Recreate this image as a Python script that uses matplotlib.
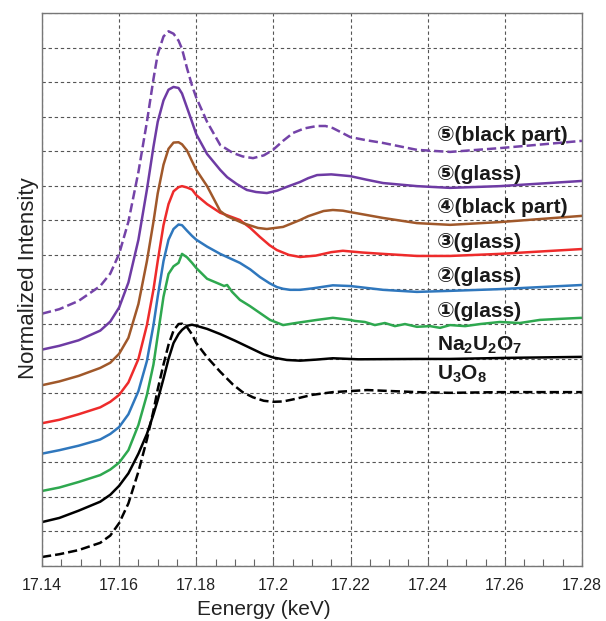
import numpy as np
import matplotlib
matplotlib.use('Agg')
import matplotlib.pyplot as plt
from matplotlib.ticker import MultipleLocator, NullFormatter

plt.rcParams['font.family'] = ['Liberation Sans', 'DejaVu Sans']
plt.rcParams['mathtext.fontset'] = 'custom'
plt.rcParams['mathtext.bf'] = 'Liberation Sans:bold'
plt.rcParams['mathtext.rm'] = 'Liberation Sans'

# energies shared by the edge region
e_edge = [17.140, 17.1445, 17.1495, 17.1551, 17.1577, 17.1600, 17.1624, 17.1650, 17.1672,
          17.1689, 17.1700, 17.1715, 17.1728, 17.1741, 17.1754, 17.1763, 17.1776, 17.1789,
          17.1800, 17.1828, 17.1862]

# U3O8 (dashed black)
e_u3o8 = e_edge + [17.1895, 17.1920, 17.1947, 17.1975, 17.1999, 17.2025, 17.2051, 17.2100,
                   17.2154, 17.2243, 17.2372, 17.2458, 17.2587, 17.280]
i_u3o8 = [0.26, 0.34, 0.46, 0.67, 0.88, 1.24, 1.81, 2.73, 3.66,
          4.49, 5.11, 5.83, 6.40, 6.81, 7.00, 7.01, 6.91, 6.70,
          6.45, 6.04, 5.62,
          5.25, 5.03, 4.88, 4.78, 4.75, 4.76, 4.82, 4.95,
          5.03, 5.09, 5.03, 5.01, 5.03, 5.03]

# Na2U2O7 (solid black)
e_na = e_edge + [17.1900, 17.1947, 17.1975, 17.2000, 17.2035, 17.2069, 17.2110, 17.2154,
                 17.2220, 17.2372, 17.2458, 17.2600, 17.280]
i_na = [1.27, 1.39, 1.60, 1.86, 2.06, 2.32, 2.68, 3.25, 3.82,
        4.39, 4.80, 5.42, 5.99, 6.45, 6.71, 6.83, 6.95, 6.98,
        6.95, 6.86, 6.71,
        6.52, 6.27, 6.12, 6.03, 5.96, 5.94, 5.97, 6.01,
        5.98, 5.99, 5.99, 6.02, 6.05]

# (1) glass - green
e_g1 = e_edge + [17.1872, 17.1880, 17.1893, 17.1913, 17.1939, 17.1965, 17.1991, 17.2025,
                 17.2058, 17.2113, 17.2154, 17.2199, 17.2211, 17.2237, 17.2263, 17.2289,
                 17.2315, 17.2341, 17.2372, 17.2406, 17.2432, 17.2458, 17.2497, 17.2536,
                 17.2587, 17.2639, 17.2691, 17.2743, 17.280]
i_g1 = [2.17, 2.27, 2.43, 2.63, 2.79, 2.99, 3.35, 4.08, 4.95,
        5.83, 6.66, 7.79, 8.45, 8.67, 8.77, 9.03, 8.93, 8.77,
        8.62, 8.31, 8.15,
        8.10, 8.13, 7.93, 7.70, 7.52, 7.32, 7.12, 6.97,
        7.03, 7.12, 7.18, 7.12, 7.09, 7.06, 6.97, 7.03,
        6.94, 7.00, 6.92, 6.94, 6.89, 6.97, 6.94, 7.00,
        7.06, 7.03, 7.12, 7.15, 7.18]

# (2) glass - blue
e_g2 = e_edge + [17.1913, 17.1940, 17.1965, 17.1990, 17.2009, 17.2025, 17.2043, 17.2069,
                 17.2100, 17.2154, 17.2199, 17.2284, 17.2372, 17.2458, 17.2587, 17.280]
i_g2 = [3.25, 3.35, 3.48, 3.66, 3.82, 4.02, 4.39, 5.06, 5.93,
        6.97, 7.79, 8.82, 9.44, 9.75, 9.88, 9.86, 9.70, 9.55,
        9.44, 9.24, 9.03,
        8.77, 8.58, 8.36, 8.18, 8.07, 8.02, 7.99, 7.99,
        8.03, 8.12, 8.10, 7.99, 7.93, 7.96, 8.01, 8.13]

# (3) glass - red
e_g3 = e_edge + [17.1913, 17.1940, 17.1965, 17.1990, 17.2009, 17.2040, 17.2069, 17.2110,
                 17.2150, 17.2180, 17.2230, 17.2284, 17.2372, 17.2458, 17.2587, 17.280]
i_g3 = [4.13, 4.23, 4.39, 4.59, 4.75, 4.95, 5.31, 5.99, 6.97,
        8.00, 8.82, 9.86, 10.47, 10.84, 10.96, 10.99, 10.95, 10.89,
        10.73, 10.47, 10.22,
        10.01, 9.78, 9.52, 9.28, 9.14, 9.00, 8.94, 8.98,
        9.08, 9.12, 9.07, 9.03, 8.97, 8.97, 9.03, 9.17]

# (4) black part - brown
e_bp4 = e_edge + [17.1880, 17.1921, 17.1960, 17.1983, 17.2025, 17.2045, 17.2069, 17.2090,
                  17.2130, 17.2154, 17.2180, 17.2199, 17.2284, 17.2372, 17.2458, 17.2587,
                  17.280]
i_bp4 = [5.23, 5.34, 5.50, 5.73, 5.88, 6.14, 6.60, 7.58, 8.82,
         9.96, 10.78, 11.61, 12.07, 12.25, 12.26, 12.20, 12.02, 11.71,
         11.46, 10.99, 10.27,
         10.12, 9.92, 9.78, 9.75, 9.81, 9.90, 10.01, 10.12,
         10.27, 10.30, 10.28, 10.24, 10.07, 9.92, 9.87, 9.95,
         10.13]

# (5) glass - purple solid
e_g5 = e_edge + [17.1880, 17.1905, 17.1931, 17.1955, 17.1983, 17.2010, 17.2035, 17.2069,
                 17.2090, 17.2113, 17.2150, 17.2199, 17.2240, 17.2284, 17.2372, 17.2458,
                 17.2587, 17.280]
i_g5 = [6.26, 6.37, 6.53, 6.81, 7.07, 7.48, 8.20, 9.44, 10.89,
        12.13, 12.85, 13.47, 13.78, 13.86, 13.83, 13.67, 13.26, 12.85,
        12.49, 11.92, 11.46,
        11.25, 11.05, 10.88, 10.82, 10.79, 10.86, 10.97, 11.11,
        11.22, 11.31, 11.33, 11.28, 11.18, 11.08, 10.99, 10.94,
        10.99, 11.14]

# (5) black part - purple dashed
e_bp5 = e_edge + [17.1895, 17.1920, 17.1947, 17.1975, 17.1999, 17.2025, 17.2051, 17.2080,
                  17.2113, 17.2135, 17.2154, 17.2175, 17.2199, 17.2240, 17.2284, 17.2372,
                  17.2458, 17.2587, 17.280]
i_bp5 = [7.30, 7.43, 7.67, 8.10, 8.46, 9.03, 9.96, 11.40, 12.85,
         14.09, 14.81, 15.32, 15.47, 15.40, 15.20, 14.96, 14.40, 13.90,
         13.55, 12.85, 12.18,
         11.95, 11.85, 11.80, 11.88, 12.04, 12.30, 12.53, 12.66,
         12.73, 12.73, 12.67, 12.55, 12.41, 12.32, 12.24, 12.04,
         11.98, 12.09, 12.30]

labels = [r'⑤(black part)', r'⑤(glass)', r'④(black part)', r'③(glass)',
          r'②(glass)', r'①(glass)', r'$\mathbf{Na_2U_2O_7}$', r'$\mathbf{U_3O_8}$']
label_y = [12.30, 11.17, 10.21, 9.20, 8.22, 7.20, 6.22, 5.38]

fig = plt.figure(figsize=(6.06, 6.21), dpi=100)
ax = fig.add_axes([0.0693, 0.0886, 0.8911, 0.8905])

lw = 1.8
kw = dict(lw=lw, solid_joinstyle='round', dash_joinstyle='round')
ax.plot(e_u3o8, i_u3o8, color='black', ls='--', **kw)
ax.plot(e_na, i_na, color='black', **kw)
ax.plot(e_g1, i_g1, color='#2ea84f', **kw)
ax.plot(e_g2, i_g2, color='#2f77bd', **kw)
ax.plot(e_g3, i_g3, color='#ee2b2b', **kw)
ax.plot(e_bp4, i_bp4, color='#a0582a', **kw)
ax.plot(e_g5, i_g5, color='#6e3ba4', **kw)
ax.plot(e_bp5, i_bp5, color='#7443a8', ls='--', **kw)

for txt, y in zip(labels, label_y):
    ax.text(17.2424, y, txt, fontsize=15, fontweight='bold', color='#1a1a1a',
            va='baseline', ha='left', family=['Liberation Sans', 'DejaVu Sans'])

ax.set_xlim(17.14, 17.28)
ax.set_ylim(0, 16)
ax.xaxis.set_minor_locator(MultipleLocator(0.005))
ax.yaxis.set_major_locator(MultipleLocator(1))
ax.yaxis.set_major_formatter(NullFormatter())
ax.set_xticks([17.14, 17.16, 17.18, 17.2, 17.22, 17.24, 17.26, 17.28])
ax.set_xticklabels(['17.14', '17.16', '17.18', '17.2', '17.22', '17.24', '17.26', '17.28'])
ax.tick_params(axis='x', which='both', direction='in', length=5, width=0.8,
               color='#666666', labelsize=11.5, labelcolor='#222222', pad=9)
ax.tick_params(axis='y', which='both', length=0)
ax.grid(True, which='major', color='#555555', lw=0.8, ls=(0, (3, 2.5)))
for s in ax.spines.values():
    s.set_color('#777777')
    s.set_linewidth(1.0)

ax.set_xlabel('Eenergy (keV)', fontsize=15, color='#222222')
ax.xaxis.set_label_coords(0.41, -0.061)
ax.set_ylabel('Normalized Intensity', fontsize=16, color='#222222', va='center')
ax.yaxis.set_label_coords(-0.025, 0.52)

fig.savefig('out.png', dpi=100)
